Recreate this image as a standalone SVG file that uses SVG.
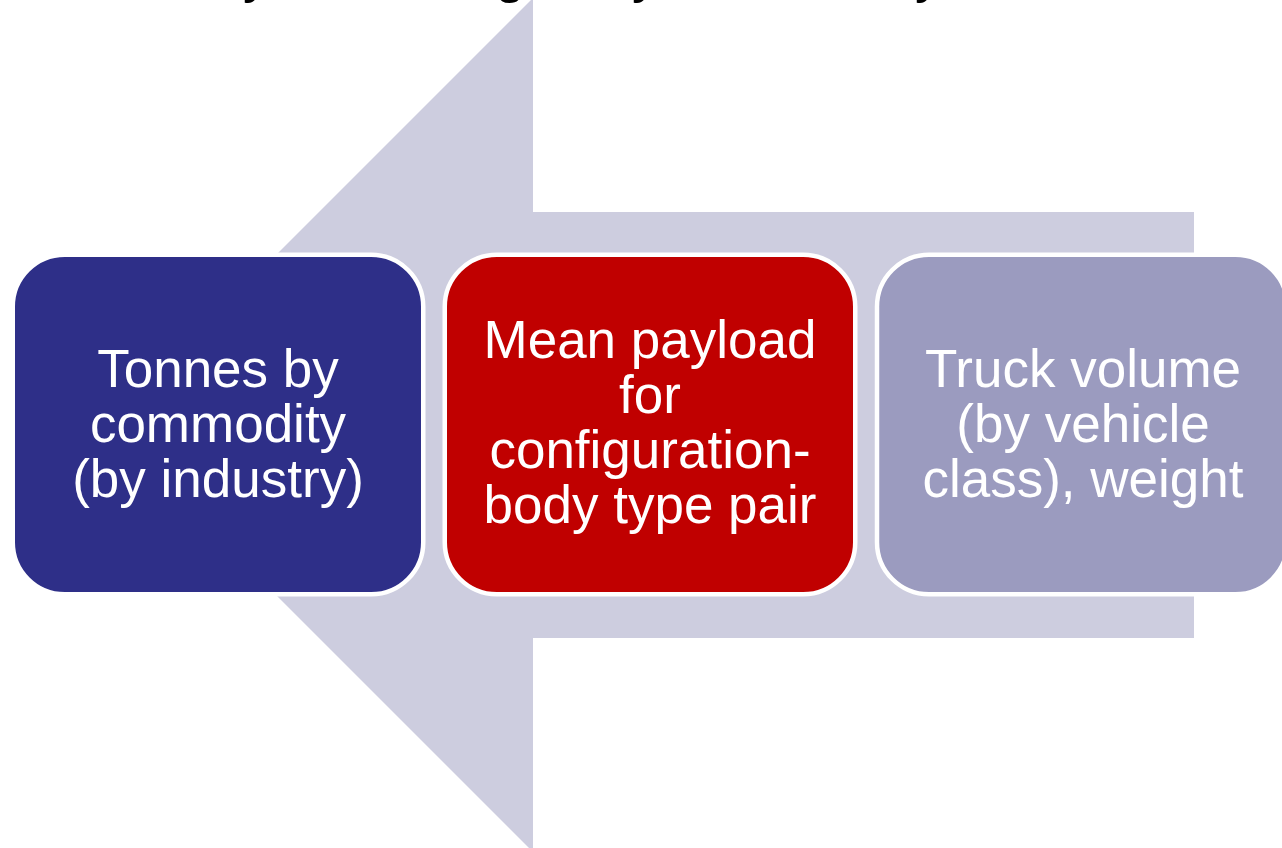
<svg xmlns="http://www.w3.org/2000/svg" width="1282" height="848" viewBox="0 0 1282 848">
  <defs>
    <style>
      .box { stroke: #FFFFFF; stroke-width: 4.5; }
      .label { font-family: "Liberation Sans", Arial, sans-serif; font-size: 53px; fill: #FFFFFF; text-anchor: middle; }
      .title { font-family: "Liberation Sans", Arial, sans-serif; font-size: 54px; fill: #000000; }
    </style>
  </defs>
  <rect width="1282" height="848" fill="#FFFFFF"/>

  <!-- title line, running off the top edge -->
  <text class="title" x="243 495 632 915" y="-8">ygyy</text>

  <!-- large backdrop arrow pointing left -->
  <g id="connectors">
    <polygon points="1194,212 533,212 533,-2 106,425 533,852 533,638 1194,638" fill="#CDCDDF"/>
  </g>

  <g id="node-tonnes">
    <rect class="box" x="12.75" y="254.75" width="410.5" height="339.5" rx="52" ry="52" fill="#2E2F88"/>
    <text class="label" x="218" y="387">Tonnes by</text>
    <text class="label" x="218" y="442">commodity</text>
    <text class="label" x="218" y="497">(by industry)</text>
  </g>

  <g id="node-payload">
    <rect class="box" x="444.75" y="254.75" width="410.5" height="339.5" rx="52" ry="52" fill="#C00000"/>
    <text class="label" x="650" y="358">Mean payload</text>
    <text class="label" x="650" y="413">for</text>
    <text class="label" x="650" y="468">configuration-</text>
    <text class="label" x="650" y="523">body type pair</text>
  </g>

  <g id="node-volume">
    <rect class="box" x="877" y="254.75" width="410.5" height="339.5" rx="52" ry="52" fill="#9B9BBF"/>
    <text class="label" x="1083" y="387">Truck volume</text>
    <text class="label" x="1083" y="442">(by vehicle</text>
    <text class="label" x="1083" y="497">class), weight</text>
  </g>
</svg>
